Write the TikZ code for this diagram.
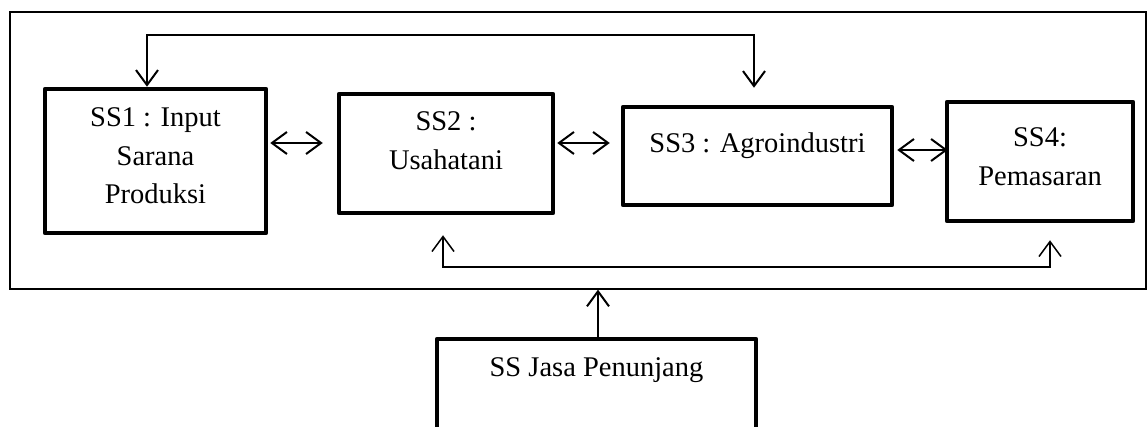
\documentclass[tikz,border=0pt]{standalone}
\usepackage{fontspec}
\setmainfont{Liberation Serif}
\usetikzlibrary{arrows.meta,positioning}

\begin{document}
\begin{tikzpicture}
  [x=1pt,y=-1pt,>={Straight Barb[length=15pt,width=22pt]},
   ssbox/.style={draw,rectangle,line width=4.5pt,line join=round},
   sstext/.style={align=center,inner sep=0pt,font=\fontsize{28.5}{38.5}\selectfont},
   link/.style={line width=2pt}]
  \useasboundingbox (0,0) rectangle (1148,427);

  % the system and its subsystems
  \node[draw,line width=1.3pt,minimum width=1136,minimum height=277] (sys) at (578,150.5) {};
  \node[ssbox,minimum width=221,minimum height=144] (ss1) at (155.5,161) {};
  \node[ssbox,minimum width=214,minimum height=119] (ss2) at (446,153.5) {};
  \node[ssbox,minimum width=269,minimum height=98] (ss3) at (757.5,156) {};
  \node[ssbox,minimum width=186,minimum height=119] (ss4) at (1040,161.5) {};
  \node[ssbox,minimum width=319,minimum height=93] (ssj) at (596.5,385.5) {};

  \node[sstext,below=21pt of ss1.north] (t1) {SS1 : Input\\Sarana\\Produksi};
  \node[sstext,below=20pt of ss2.north] (t2) {SS2 :\\Usahatani};
  \node[sstext,below=28pt of ss3.north] (t3) {SS3 : Agroindustri};
  \node[sstext,below=28pt of ss4.north] (t4) {SS4:\\Pemasaran};
  \node[sstext,below=21pt of ssj.north] (tj) {SS Jasa Penunjang};

  % links between neighbours
  \draw[link,<->] ([xshift=2pt,yshift=18pt]ss1.east) -- ([xshift=-14pt,yshift=10.5pt]ss2.west);
  \draw[link,<->] ([xshift=2pt,yshift=10.5pt]ss2.east) -- ([xshift=-11pt,yshift=13pt]ss3.west);
  \draw[link,<->] ([xshift=3pt,yshift=6pt]ss3.east) -- ([xshift=3pt,yshift=11.5pt]ss4.west);

  % feedback rails
  \coordinate (in1) at ([xshift=-8.5pt]ss1.north);
  \coordinate (in3) at ([xshift=-3.5pt,yshift=17pt]ss3.north);
  \coordinate (toprail) at (450,35);
  \draw[link,<->] (in1) |- (toprail) -| (in3);

  \coordinate (in2) at ([xshift=-3pt,yshift=-20pt]ss2.south);
  \coordinate (in4) at ([xshift=10pt,yshift=-17pt]ss4.south);
  \coordinate (botrail) at (700,267);
  \draw[link,<->,line width=1.5pt] (in2) |- (botrail) -| (in4);

  % support services
  \draw[link,->] ([xshift=1.5pt]ssj.north) -- ([xshift=1.5pt]ssj.north |- sys.south);
\end{tikzpicture}
\end{document}
